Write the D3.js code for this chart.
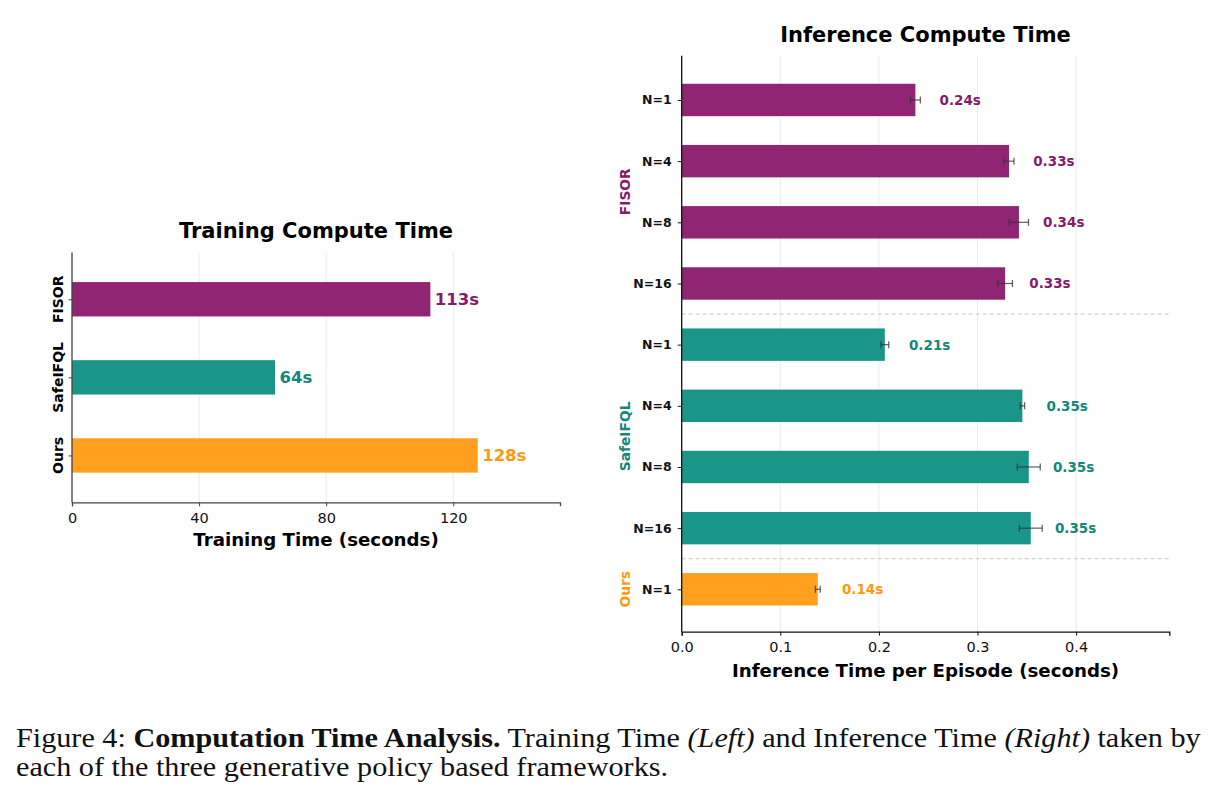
<!DOCTYPE html>
<html>
<head>
<meta charset="utf-8">
<script src="https://cdn.jsdelivr.net/npm/d3@7"></script>
<style>
  body { margin: 0; background: #fff; }
  svg { display: block; }
  .lbl { font-family: "DejaVu Sans", sans-serif; }
</style>
</head>
<body>
<svg id="fig" width="1220" height="804"></svg>
<script>
// training time (left panel)
const trainMethods = ["FISOR", "SafeIFQL", "Ours"];
const trainTimes = [112.8, 63.9, 127.7];
const trainTicks = [0, 40, 80, 120];

// inference time (right panel)
const inferGroups = ["FISOR", "FISOR", "FISOR", "FISOR", "SafeIFQL", "SafeIFQL", "SafeIFQL", "SafeIFQL", "Ours"];
const inferN = ["N=1", "N=4", "N=8", "N=16", "N=1", "N=4", "N=8", "N=16", "N=1"];
const inferTimes = [0.237, 0.332, 0.342, 0.328, 0.206, 0.3455, 0.352, 0.354, 0.138];
const inferErr = [0.005, 0.005, 0.0097, 0.0074, 0.004, 0.0023, 0.0116, 0.0116, 0.0025];
const inferTicks = [0.0, 0.1, 0.2, 0.3, 0.4];

const barColor = { FISOR: "#8f2573", SafeIFQL: "#1a9688", Ours: "#ffa01e" };
const textColor = { FISOR: "#861b6c", SafeIFQL: "#13877a", Ours: "#ff990f" };

const svg = d3.select("#fig");
svg.append("rect").attr("width", 1220).attr("height", 804).attr("fill", "#fff");

/////////////////////// left chart
let xL = d3.scaleLinear().domain([0, 153.6]).range([72, 560]);
let yL = d3.scaleLinear().domain([-0.6, 2.6]).range([252.4, 502.3]);
let bhL = 0.44 * (yL(1) - yL(0));

let gL = svg.append("g");

// grid
gL.selectAll(".grid")
  .data(trainTicks)
  .join("line")
  .attr("x1", d => xL(d)).attr("x2", d => xL(d))
  .attr("y1", yL(-0.6)).attr("y2", yL(2.6))
  .attr("stroke", "#ebebeb").attr("stroke-width", 1);

gL.selectAll(".bar")
  .data(trainMethods)
  .join("rect")
  .attr("x", xL(0))
  .attr("y", (d, i) => yL(i) - bhL / 2)
  .attr("width", (d, i) => xL(trainTimes[i]) - xL(0))
  .attr("height", bhL)
  .attr("fill", d => barColor[d]);

gL.selectAll(".val")
  .data(trainMethods)
  .join("text")
  .attr("class", "lbl")
  .attr("x", (d, i) => xL(trainTimes[i] + 1.4))
  .attr("y", (d, i) => yL(i))
  .attr("dy", "0.36em")
  .style("font-size", "16.5px")
  .style("font-weight", "bold")
  .attr("fill", d => textColor[d])
  .text((d, i) => Math.round(trainTimes[i]) + "s");

// axes
let axL = d3.axisBottom(xL).tickValues(trainTicks).tickSize(4).tickFormat(d3.format("d"));
let axLg = gL.append("g").attr("transform", `translate(0,${yL(2.6)})`).call(axL);
axLg.select(".domain").attr("stroke", "#444").attr("stroke-width", 1.3);
axLg.selectAll(".tick line").attr("stroke", "#444");
axLg.selectAll(".tick text").attr("class", "lbl").style("font-size", "14.5px").attr("fill", "#111").attr("dy", "0.95em");

let ayLg = gL.append("g").attr("transform", `translate(${xL(0)},0)`)
  .call(d3.axisLeft(yL).tickValues([0, 1, 2]).tickSize(3.5).tickFormat(""));
ayLg.select(".domain").attr("stroke", "#444").attr("stroke-width", 1.3).attr("d", `M0,${yL(-0.6)}V${yL(2.6)}`);
ayLg.selectAll(".tick line").attr("stroke", "#444");

gL.selectAll(".ylab")
  .data(trainMethods)
  .join("text")
  .attr("class", "lbl")
  .attr("transform", (d, i) => `translate(57.5,${yL(i)}) rotate(-90)`)
  .attr("text-anchor", "middle")
  .attr("dy", "0.36em")
  .style("font-size", "14px")
  .style("font-weight", "bold")
  .text(d => d);

gL.append("text").attr("class", "lbl")
  .attr("x", (xL.range()[0] + xL.range()[1]) / 2).attr("y", 238)
  .attr("text-anchor", "middle")
  .style("font-size", "21px").style("font-weight", "bold")
  .text("Training Compute Time");

gL.append("text").attr("class", "lbl")
  .attr("x", (xL.range()[0] + xL.range()[1]) / 2).attr("y", 546)
  .attr("text-anchor", "middle")
  .style("font-size", "18.2px").style("font-weight", "bold")
  .text("Training Time (seconds)");

/////////////////////// right chart
let xR = d3.scaleLinear().domain([0, 0.4945]).range([681.7, 1169.3]);
let yR = d3.scaleLinear().domain([-0.724, 8.693]).range([55.7, 631.7]);
let bhR = 0.53 * (yR(1) - yR(0));

let gR = svg.append("g");

gR.selectAll(".grid")
  .data(inferTicks)
  .join("line")
  .attr("x1", d => xR(d)).attr("x2", d => xR(d))
  .attr("y1", yR(-0.724)).attr("y2", yR(8.693))
  .attr("stroke", "#ebebeb").attr("stroke-width", 1);

// separators between methods
let seps = [];
for (let i = 1; i < inferGroups.length; i++) {
  if (inferGroups[i] != inferGroups[i - 1]) seps.push(i - 0.5);
}
gR.selectAll(".sep")
  .data(seps)
  .join("line")
  .attr("x1", xR(0)).attr("x2", xR(0.4945))
  .attr("y1", d => yR(d)).attr("y2", d => yR(d))
  .attr("stroke", "#c8c8c8").attr("stroke-width", 1)
  .attr("stroke-dasharray", "4,3");

gR.selectAll(".bar")
  .data(inferTimes)
  .join("rect")
  .attr("x", xR(0))
  .attr("y", (d, i) => yR(i) - bhR / 2)
  .attr("width", d => xR(d) - xR(0))
  .attr("height", bhR)
  .attr("fill", (d, i) => barColor[inferGroups[i]]);

// error bars
let eb = gR.selectAll(".err")
  .data(inferTimes)
  .join("g")
  .attr("stroke", "#333")
  .attr("stroke-opacity", 0.8)
  .attr("stroke-width", 1.2);
eb.append("line")
  .attr("x1", (d, i) => xR(d - inferErr[i])).attr("x2", (d, i) => xR(d + inferErr[i]))
  .attr("y1", (d, i) => yR(i)).attr("y2", (d, i) => yR(i));
eb.append("line")
  .attr("x1", (d, i) => xR(d - inferErr[i])).attr("x2", (d, i) => xR(d - inferErr[i]))
  .attr("y1", (d, i) => yR(i) - 3.5).attr("y2", (d, i) => yR(i) + 3.5);
eb.append("line")
  .attr("x1", (d, i) => xR(d + inferErr[i])).attr("x2", (d, i) => xR(d + inferErr[i]))
  .attr("y1", (d, i) => yR(i) - 3.5).attr("y2", (d, i) => yR(i) + 3.5);

gR.selectAll(".val")
  .data(inferTimes)
  .join("text")
  .attr("class", "lbl")
  .attr("x", d => xR(d + 0.0245))
  .attr("y", (d, i) => yR(i))
  .attr("dy", "0.36em")
  .style("font-size", "13.5px")
  .style("font-weight", "bold")
  .attr("fill", (d, i) => textColor[inferGroups[i]])
  .text(d => d.toFixed(2) + "s");

let axR = d3.axisBottom(xR).tickValues(inferTicks).tickSize(4).tickFormat(d3.format(".1f"));
let axRg = gR.append("g").attr("transform", `translate(0,${yR(8.693)})`).call(axR);
axRg.select(".domain").attr("stroke", "#111").attr("stroke-width", 1.3);
axRg.selectAll(".tick line").attr("stroke", "#111");
axRg.selectAll(".tick text").attr("class", "lbl").style("font-size", "14.5px").attr("fill", "#111").attr("dy", "0.95em");

let ayRg = gR.append("g").attr("transform", `translate(${xR(0)},0)`)
  .call(d3.axisLeft(yR).tickValues(d3.range(inferN.length)).tickSize(4).tickFormat(i => inferN[i]).tickPadding(6));
ayRg.select(".domain").attr("stroke", "#111").attr("stroke-width", 1.3).attr("d", `M0,${yR(-0.724)}V${yR(8.693)}`);
ayRg.selectAll(".tick line").attr("stroke", "#111");
ayRg.selectAll(".tick text").attr("class", "lbl").style("font-size", "12.5px").style("font-weight", "bold").attr("fill", "#111");

// method labels on the left
let groupNames = Array.from(new Set(inferGroups));
gR.selectAll(".grp")
  .data(groupNames)
  .join("text")
  .attr("class", "lbl")
  .attr("transform", d => {
    let idx = d3.range(inferGroups.length).filter(i => inferGroups[i] == d);
    return `translate(625,${yR(d3.mean(idx))}) rotate(-90)`;
  })
  .attr("text-anchor", "middle")
  .attr("dy", "0.36em")
  .style("font-size", "13.8px")
  .style("font-weight", "bold")
  .attr("fill", d => textColor[d])
  .text(d => d);

gR.append("text").attr("class", "lbl")
  .attr("x", (xR.range()[0] + xR.range()[1]) / 2).attr("y", 42)
  .attr("text-anchor", "middle")
  .style("font-size", "21px").style("font-weight", "bold")
  .text("Inference Compute Time");

gR.append("text").attr("class", "lbl")
  .attr("x", (xR.range()[0] + xR.range()[1]) / 2).attr("y", 677)
  .attr("text-anchor", "middle")
  .style("font-size", "18.2px").style("font-weight", "bold")
  .text("Inference Time per Episode (seconds)");

/////////////////////// caption
let cap = svg.append("g").style("font-family", '"Liberation Serif", "Times New Roman", serif').style("font-size", "28px").attr("fill", "#111");
let line1 = cap.append("text").attr("x", 16).attr("y", 747);
line1.append("tspan").text("Figure 4: ");
line1.append("tspan").style("font-weight", "bold").text("Computation Time Analysis.");
line1.append("tspan").text(" Training Time ");
line1.append("tspan").style("font-style", "italic").text("(Left)");
line1.append("tspan").text(" and Inference Time ");
line1.append("tspan").style("font-style", "italic").text("(Right)");
line1.append("tspan").text(" taken by");
let w1 = line1.node().getComputedTextLength();
let squeeze = 1185 / w1;
line1.attr("transform", `translate(16,747) scale(${squeeze},1) translate(-16,-747)`);

let line2 = cap.append("text").attr("x", 16).attr("y", 776)
  .attr("transform", `translate(16,776) scale(${squeeze},1) translate(-16,-776)`)
  .text("each of the three generative policy based frameworks.");
</script>
</body>
</html>
